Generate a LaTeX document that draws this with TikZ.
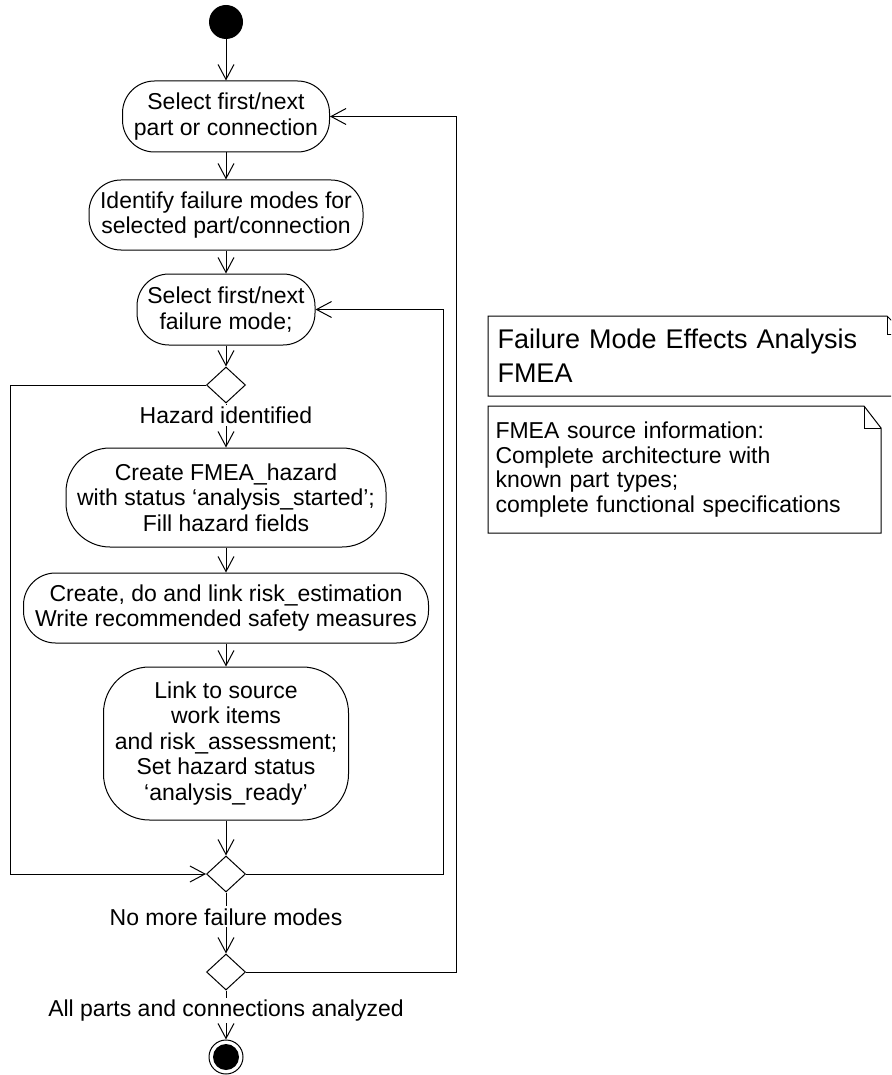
\documentclass[tikz,border=0pt]{standalone}
\usepackage{fontspec}
\setmainfont{Liberation Sans}
\usetikzlibrary{arrows.meta,shapes.geometric}

\newcommand\actfont{\fontsize{23pt}{25.5pt}\selectfont}
\newcommand\notefont{\fontsize{23pt}{24.5pt}\selectfont}
\newcommand\titlefont{\fontsize{27pt}{34pt}\selectfont}

\begin{document}
\begin{tikzpicture}[x=1pt,y=-1pt,line width=1pt,
  >={Straight Barb[length=15pt,width=16pt]},
  act/.style={draw, rounded corners=32pt, align=center, inner sep=0pt, font=\actfont},
  decision/.style={draw, diamond, inner sep=0pt, minimum width=39pt, minimum height=36pt},
  startnode/.style={circle, fill=black, inner sep=0pt, minimum size=34pt},
  endring/.style={circle, draw, inner sep=0pt, minimum size=34pt},
  enddot/.style={circle, fill=black, inner sep=0pt, minimum size=26pt},
  guard/.style={fill=white, inner sep=2pt, font=\actfont},
  notetext/.style={align=left, inner ysep=0pt, anchor=north west}
]
\path[use as bounding box, clip] (0,0) rectangle (891,1075);

% activity flow
\node[startnode] (start) at (226,22) {};
\node[act, minimum width=207pt, minimum height=71pt] (selpart) at (226,116.5)
  {Select first/next\\part or connection};
\node[act, minimum width=274pt, minimum height=70pt] (ident) at (226,215)
  {Identify failure modes for\\selected part/connection};
\node[act, minimum width=178pt, minimum height=71pt] (selmode) at (226,309.5)
  {Select first/next\\failure mode;};
\node[decision] (haz) at (226,385) {};
\node[act, rounded corners=44pt, minimum width=320pt, minimum height=99pt] (create) at (226,497.5)
  {Create FMEA\_hazard\\with status ‘analysis\_started’;\\Fill hazard fields};
\node[act, minimum width=405pt, minimum height=70pt] (risk) at (226,608)
  {Create, do and link risk\_estimation\\Write recommended safety measures};
\node[act, rounded corners=46pt, minimum width=245pt, minimum height=153pt] (link) at (226,743.5)
  {Link to source\\work items\\and risk\_assessment;\\Set hazard status\\‘analysis\_ready’};
\node[decision] (merge) at (226,874) {};
\node[decision] (parts) at (226,972) {};
\node[endring] (end) at (226,1057) {};
\node[enddot] (enddot) at (end) {};

% rails for the loops
\coordinate (leftrail) at (10,0);
\coordinate (innerrail) at (443,0);
\coordinate (outerrail) at (456,0);

% straight connectors
\draw[->] (start) -- (selpart);
\draw[->] (selpart) -- (ident);
\draw[->] (ident) -- (selmode);
\draw[->] (selmode) -- (haz);
\draw[->] (haz) -- node[guard, pos=0.27] {Hazard identified} (create);
\draw[->] (create) -- (risk);
\draw[->] (risk) -- (link);
\draw[->] (link) -- (merge);
\draw[->] (merge) -- node[guard, pos=0.4] {No more failure modes} (parts);
\draw[->] (parts) -- node[guard, pos=0.41] {All parts and connections analyzed} (end);

% loops
\draw[->] (haz.west) -- (haz.west -| leftrail) -- (merge.west -| leftrail) -- (merge.west);
\draw[->] (merge.east) -- (merge.east -| innerrail) -- (selmode.east -| innerrail) -- (selmode.east);
\draw[->] (parts.east) -- (parts.east -| outerrail) -- (selpart.east -| outerrail) -- (selpart.east);

% notes
\node[notetext, font=\titlefont, inner xsep=9pt, text width=398pt, minimum height=79pt] (title) at (488,316)
  {Failure Mode Effects Analysis\\FMEA};
\draw (title.north west) -- ([xshift=-18pt]title.north east) -- ([yshift=-18pt]title.north east)
  -- (title.south east) -- (title.south west) -- cycle;
\draw ([xshift=-18pt]title.north east) |- ([yshift=-18pt]title.north east);

\node[notetext, font=\notefont, inner xsep=7pt, text width=378pt, minimum height=126pt] (source) at (488,406)
  {FMEA source information:\\Complete architecture with\\known part types;\\complete functional specifications};
\draw (source.north west) -- ([xshift=-17pt]source.north east) -- ([yshift=-22pt]source.north east)
  -- (source.south east) -- (source.south west) -- cycle;
\draw ([xshift=-17pt]source.north east) |- ([yshift=-22pt]source.north east);
\end{tikzpicture}
\end{document}
